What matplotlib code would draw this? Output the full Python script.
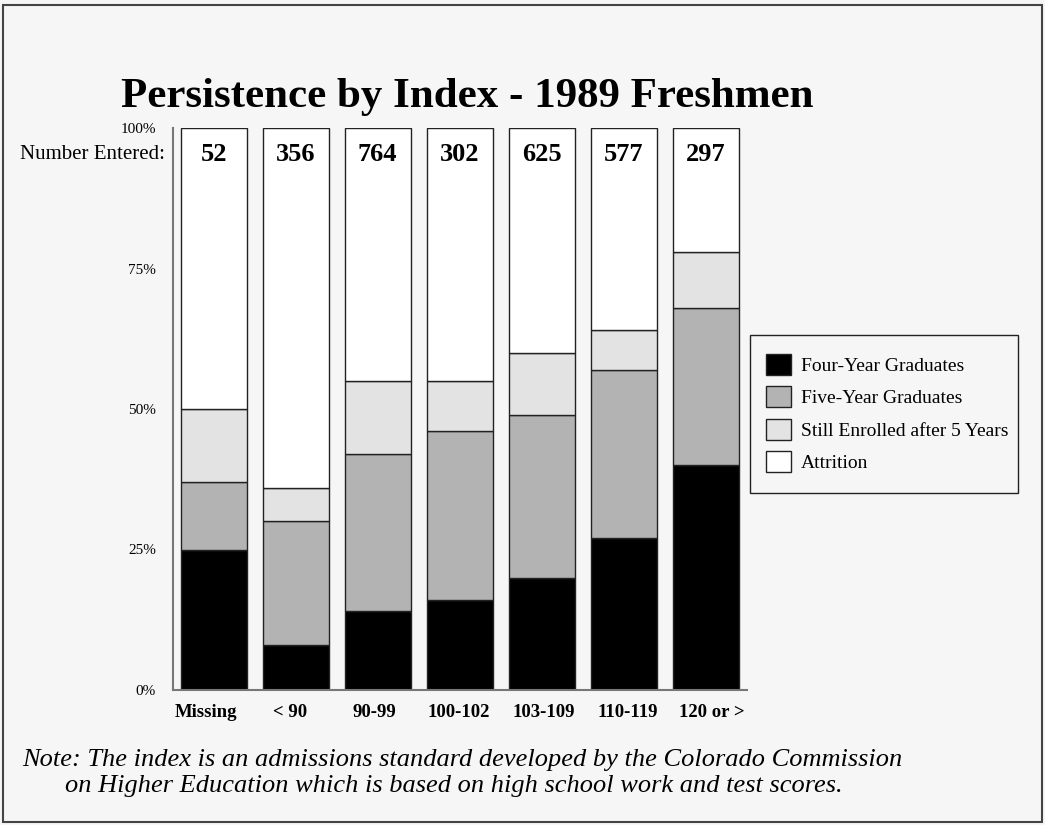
import matplotlib.pyplot as plt
import matplotlib.patches as mpatches
import numpy as np

plt.rcParams['font.family'] = ['Liberation Serif', 'DejaVu Serif']

# data (percent of entering class)
categories = ["Missing", "< 90", "90-99", "100-102", "103-109", "110-119", "120 or >"]
number_entered = [52, 356, 764, 302, 625, 577, 297]
four_year = [25, 8, 14, 16, 20, 27, 40]
five_year = [12, 22, 28, 30, 29, 30, 28]
still_enrolled = [13, 6, 13, 9, 11, 7, 10]
attrition = [50, 64, 45, 45, 40, 36, 22]

series_names = ["Four-Year Graduates", "Five-Year Graduates",
                "Still Enrolled after 5 Years", "Attrition"]
series_colors = ["#000000", "#b3b3b3", "#e3e3e3", "#ffffff"]

bg = "#f6f6f6"
W, H = 1045, 825
fig = plt.figure(figsize=(W / 100, H / 100), dpi=100, facecolor=bg)

# outer frame
fig.patches.append(mpatches.Rectangle((3 / W, 3 / H), 1039 / W, 817 / H,
                                      transform=fig.transFigure, fill=False,
                                      edgecolor="#444444", linewidth=1.5))

ax = fig.add_axes([172.7 / W, 135 / H, 574 / W, 562 / H])
ax.set_facecolor(bg)

x = np.arange(len(categories))
bottom = np.zeros(len(categories))
for name, vals, col in zip(series_names,
                           [four_year, five_year, still_enrolled, attrition],
                           series_colors):
    ax.bar(x, vals, width=0.805, bottom=bottom, color=col, edgecolor="#222222",
           linewidth=1, label=name)
    bottom += np.array(vals)

ax.set_xlim(-0.5, len(categories) - 0.5)
ax.set_ylim(0, 100)
ax.set_yticks([0, 25, 50, 75, 100])
ax.set_yticklabels(["0%", "25%", "50%", "75%", "100%"], fontsize=11)
# labels in the original sit on a slightly wider spacing than the bars
ax.set_xticks(x * 1.03 - 0.1)
ax.set_xticklabels(categories, fontsize=13.5, fontweight="bold")
ax.tick_params(axis="y", length=0, pad=12)
ax.tick_params(axis="x", length=0, pad=10)
for s in ["top", "right"]:
    ax.spines[s].set_visible(False)
for s in ["left", "bottom"]:
    ax.spines[s].set_color("#777777")
    ax.spines[s].set_linewidth(1.5)

# number entered row
for i, n in enumerate(number_entered):
    ax.text(i, 95.2, str(n), ha="center", va="center", fontsize=19,
            fontweight="bold")
ax.text(-0.013, 95.2, "Number Entered:", transform=ax.get_yaxis_transform(),
        ha="right", va="center", fontsize=15)

fig.text(467 / W, 1 - 97 / H, "Persistence by Index - 1989 Freshmen",
         ha="center", va="center", fontsize=31, fontweight="bold")

# legend: box drawn separately, entries placed inside it
fig.patches.append(mpatches.Rectangle((750 / W, 1 - 493 / H), 268 / W, 158 / H,
                                      transform=fig.transFigure, facecolor=bg,
                                      edgecolor="#222222", linewidth=1))
handles = [mpatches.Patch(facecolor=c, edgecolor="#222222", linewidth=1)
           for c in series_colors]
leg = fig.legend(handles, series_names, loc="upper left",
                 bbox_to_anchor=(766 / W, 1 - 354 / H), borderaxespad=0,
                 fontsize=14, frameon=False, borderpad=0,
                 handlelength=1.3, handleheight=1.25, handletextpad=0.5,
                 labelspacing=0.6)

fig.text(22 / W, 1 - 760 / H,
         "Note: The index is an admissions standard developed by the Colorado Commission",
         ha="left", va="center", fontsize=19, style="italic")
fig.text(65 / W, 1 - 786 / H,
         "on Higher Education which is based on high school work and test scores.",
         ha="left", va="center", fontsize=19, style="italic")

fig.savefig("out.png", dpi=100, facecolor=bg)
